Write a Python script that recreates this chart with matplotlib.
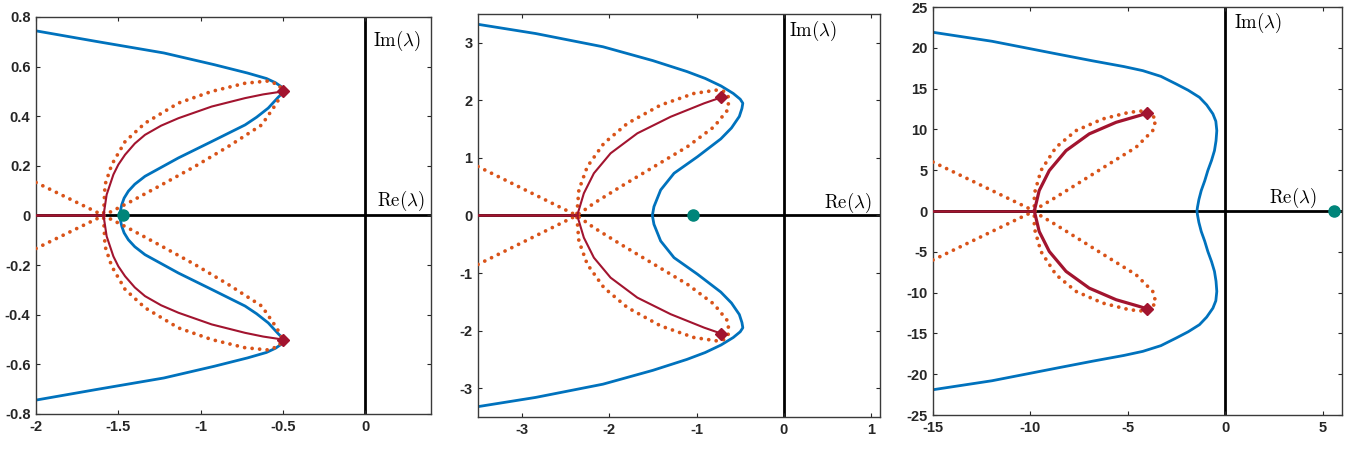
import matplotlib
matplotlib.use("Agg")
import matplotlib.pyplot as plt

plt.rcParams['mathtext.fontset'] = 'cm'
plt.rcParams['axes.unicode_minus'] = False
plt.rcParams['font.family'] = ['Liberation Sans', 'DejaVu Sans']

BLUE = '#0072BD'
RED = '#A2142F'
ORANGE = '#D95319'
TEAL = '#00857A'

# panel 1 (upper halves, the lower halves are the mirror images)
blue1_x = [-2.0, -1.63, -1.224, -0.919, -0.715, -0.60, -0.545, -0.512, -0.498, -0.508,
           -0.528, -0.589, -0.66, -0.730, -0.933, -1.135, -1.338, -1.40, -1.439, -1.465,
           -1.479, -1.49, -1.492]
blue1_y = [0.744, 0.701, 0.655, 0.608, 0.574, 0.552, 0.535, 0.52, 0.505, 0.49,
           0.477, 0.433, 0.396, 0.365, 0.298, 0.232, 0.158, 0.126, 0.098, 0.07,
           0.044, 0.011, 0.0]
red1_x = [-0.5, -0.62, -0.730, -0.933, -1.135, -1.24, -1.338, -1.40, -1.459, -1.50,
          -1.530, -1.571, -1.59]
red1_y = [0.5, 0.488, 0.473, 0.439, 0.392, 0.362, 0.325, 0.29, 0.245, 0.205,
          0.165, 0.084, 0.0]
dot1_x = [-2.0, -1.59, -1.439, -1.236, -1.034, -0.832, -0.629, -0.538, -0.508, -0.52,
          -0.589, -0.73, -0.933, -1.135, -1.338, -1.459, -1.54, -1.581, -1.59]
dot1_y = [-0.133, 0.0, 0.051, 0.124, 0.198, 0.278, 0.365, 0.453, 0.49, 0.525,
          0.542, 0.533, 0.5, 0.453, 0.372, 0.298, 0.205, 0.124, 0.0]

# panel 2
blue2_x = [-3.5, -2.84, -2.07, -1.50, -1.11, -0.90, -0.72, -0.58, -0.50, -0.47, -0.48,
           -0.51, -0.60, -0.722, -0.989, -1.257, -1.41, -1.487, -1.505]
blue2_y = [3.32, 3.16, 2.93, 2.69, 2.50, 2.38, 2.25, 2.12, 2.02, 1.95, 1.86,
           1.72, 1.52, 1.33, 1.02, 0.733, 0.443, 0.153, 0.0]
red2_x = [-0.72, -0.913, -1.295, -1.677, -1.983, -2.174, -2.289, -2.365]
red2_y = [2.05, 1.948, 1.715, 1.427, 1.08, 0.733, 0.385, 0.0]
dot2_x = [-3.5, -2.37, -2.174, -1.868, -1.487, -1.104, -0.8, -0.645, -0.627, -0.67,
          -0.76, -1.028, -1.41, -1.79, -2.06, -2.25, -2.346, -2.37]
dot2_y = [-0.85, 0.0, 0.212, 0.5, 0.847, 1.195, 1.54, 1.83, 2.035, 2.15,
          2.18, 2.12, 1.918, 1.6, 1.253, 0.847, 0.443, 0.0]

# panel 3
blue3_x = [-15.0, -11.97, -8.54, -6.8, -5.2, -4.23, -3.3, -2.52, -1.9, -1.32, -0.95,
           -0.63, -0.48, -0.43, -0.47, -0.55, -0.70, -0.89, -1.05, -1.23, -1.35,
           -1.42, -1.45]
blue3_y = [21.9, 20.8, 19.2, 18.4, 17.7, 17.2, 16.5, 15.57, 14.8, 13.93, 13.0,
           11.9, 11.0, 9.85, 8.6, 7.4, 6.2, 4.96, 3.7, 2.5, 1.4,
           0.5, 0.0]
red3_x = [-4.0, -4.4, -5.6, -6.98, -8.17, -9.03, -9.55, -9.8]
red3_y = [12.0, 11.7, 10.87, 9.45, 7.4, 4.96, 2.5, 0.0]
dot3_x = [-15.0, -9.8, -9.55, -8.69, -7.32, -5.95, -4.58, -3.72, -3.55, -4.06,
          -4.92, -6.29, -7.66, -8.69, -9.46, -9.8, -9.8]
dot3_y = [-6.0, 0.0, 0.47, 1.69, 3.73, 5.78, 7.8, 9.85, 11.28, 12.3,
          12.1, 11.28, 9.85, 7.8, 4.96, 2.1, 0.0]

teal_x = [-1.47, -1.04, 5.6]

xlims = [(-2, 0.4), (-3.5, 1.1), (-15, 6)]
ylims = [(-0.8, 0.8), (-3.5, 3.5), (-25, 25)]
xticks = [[-2, -1.5, -1, -0.5, 0], [-3, -2, -1, 0, 1], [-15, -10, -5, 0, 5]]
yticks = [[-0.8, -0.6, -0.4, -0.2, 0, 0.2, 0.4, 0.6, 0.8],
          [-3, -2, -1, 0, 1, 2, 3],
          [-25, -20, -15, -10, -5, 0, 5, 10, 15, 20, 25]]

panels = [
    (blue1_x, blue1_y, red1_x, red1_y, dot1_x, dot1_y, 1.5),
    (blue2_x, blue2_y, red2_x, red2_y, dot2_x, dot2_y, 1.5),
    (blue3_x, blue3_y, red3_x, red3_y, dot3_x, dot3_y, 2.3),
]

rects = [[0.0268, 0.0780, 0.2937, 0.8842],
         [0.3554, 0.0713, 0.2989, 0.8976],
         [0.6937, 0.0757, 0.3041, 0.9087]]
im_pos = [(0.853, 0.94), (0.774, 0.958), (0.736, 0.961)]
re_pos = [(0.985, 0.537), (0.980, 0.531), (0.939, 0.532)]

DOTS = (0, (0.01, 2.0))


def mirror(v):
    return [-a for a in v]


fig = plt.figure(figsize=(13.45, 4.49), dpi=100)

for i, (bx, by, rx, ry, ox, oy, rlw) in enumerate(panels):
    ax = fig.add_axes(rects[i])
    x0, x1 = xlims[i]

    # coordinate axes
    ax.axhline(0, color='black', lw=2, zorder=1)
    ax.axvline(0, color='black', lw=2, zorder=1)

    # blue curve: upper half, then the mirrored lower half
    ax.plot(bx + bx[::-1], by + mirror(by[::-1]), color=BLUE, lw=2, zorder=2,
            solid_joinstyle='round')

    # dotted loops
    for yy in (oy, mirror(oy)):
        ax.plot(ox, yy, color=ORANGE, lw=2.7, ls=DOTS, dash_capstyle='round', zorder=3)

    # solid red branches
    for yy in (ry, mirror(ry)):
        ax.plot(rx, yy, color=RED, lw=rlw, zorder=4, solid_joinstyle='round')
    ax.plot([x0, rx[-1]], [0, 0], color=RED, lw=1.8, zorder=4)
    ax.plot([rx[0], rx[0]], [ry[0], -ry[0]], ls='none', marker='D', ms=6,
            color=RED, zorder=5)

    ax.plot([teal_x[i]], [0], ls='none', marker='o', ms=8, color=TEAL,
            zorder=6, clip_on=False)

    ax.set_xlim(xlims[i])
    ax.set_ylim(ylims[i])
    ax.set_xticks(xticks[i])
    ax.set_yticks(yticks[i])
    ax.set_xticklabels(['%g' % v for v in xticks[i]], fontweight='bold', fontsize=10.5)
    ax.set_yticklabels(['%g' % v for v in yticks[i]], fontweight='bold', fontsize=10.5)
    ax.tick_params(direction='in', top=True, right=True, length=3, width=0.8,
                   colors='#262626', pad=4)
    for sp in ax.spines.values():
        sp.set_color('#3a3a3a')
        sp.set_linewidth(1.0)

    ax.text(im_pos[i][0], im_pos[i][1], r'$\mathrm{Im}(\lambda)$', transform=ax.transAxes,
            ha='left', va='center', fontsize=13.5)
    ax.text(re_pos[i][0], re_pos[i][1], r'$\mathrm{Re}(\lambda)$', transform=ax.transAxes,
            ha='right', va='center', fontsize=13.5)

fig.savefig('out.png', dpi=100)
